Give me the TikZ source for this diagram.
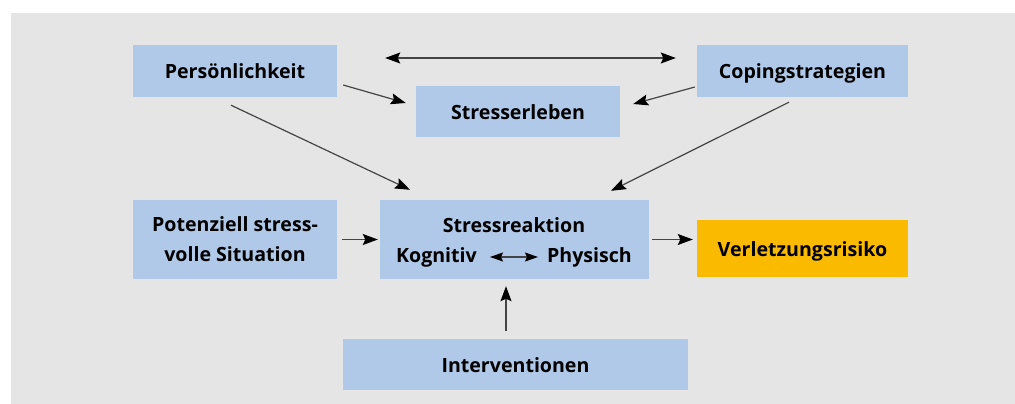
\documentclass[tikz,border=0pt]{standalone}
\usepackage{fontspec}
\setmainfont{Open Sans}
\usetikzlibrary{arrows.meta,calc}
\definecolor{bg}{HTML}{E5E5E5}
\definecolor{boxblue}{HTML}{B0C9E8}
\definecolor{boxorange}{HTML}{F9BA00}
\definecolor{linegray}{HTML}{444444}
\tikzset{
  tip/.tip={Stealth[length=15pt,width=11pt,inset=2.5pt,black]},
  smalltip/.tip={Stealth[length=13pt,width=9pt,inset=2pt,black]},
  boxnode/.style={fill=boxblue, draw=none, inner sep=0pt, font=\bfseries\fontsize{19.6}{30}\selectfont, text height=16pt, text depth=0pt},
  txt/.style={inner sep=0pt, font=\bfseries\fontsize{19.6}{30}\selectfont, anchor=base},
  arr/.style={draw=linegray, line width=1.2pt, -tip},
  darr/.style={draw=linegray, line width=1.2pt, tip-tip},
  sarr/.style={draw=linegray, line width=1.2pt, smalltip-smalltip}
}
\begin{document}
\begin{tikzpicture}[x=1pt,y=-1pt]
\useasboundingbox (0,0) rectangle (1015,404);
\fill[white] (0,0) rectangle (1015,404);
\fill[bg] (11,13) rectangle (1015,404);
% boxes
\node[boxnode, minimum width=204pt, minimum height=52pt] (pers) at (235,71) {Persönlichkeit};
\node[boxnode, minimum width=211pt, minimum height=52pt] (coping) at (802.5,71) {Copingstrategien};
\node[boxnode, minimum width=204pt, minimum height=51pt] (erl) at (518,111.5) {Stresserleben};
\node[fill=boxblue, inner sep=0pt, minimum width=204pt, minimum height=79pt, align=center, font=\bfseries\fontsize{19.6}{30}\selectfont] (pot) at (235,239.5) {Potenziell stress-\\volle Situation};
\node[fill=boxblue, inner sep=0pt, minimum width=269pt, minimum height=79pt] (sr) at (514.5,239.5) {};
\node[boxnode, fill=boxorange, minimum width=211pt, minimum height=57pt] (verl) at (802.5,248.5) {Verletzungsrisiko};
\node[boxnode, minimum width=345pt, minimum height=51pt] (interv) at (515.5,364.5) {Interventionen};
% labels inside Stressreaktion
\node[txt] (srt) at (514,232) {Stressreaktion};
\node[txt] (kog) at (436.5,262) {Kognitiv};
\node[txt] (phy) at (589.5,262) {Physisch};
% connectors
\draw[darr] ($(pers.east)+(48,-13)$) -- ($(coping.west)+(-21,-13)$);
\draw[arr] ($(pers.east)+(6,14)$) -- ($(erl.west)+(-10,-8.5)$);
\draw[arr] ($(coping.west)+(-2,16)$) -- ($(erl.east)+(13,-7.5)$);
\draw[arr] ($(pers.south)+(-4,8)$) -- ($(sr.north)+(-104.5,-10)$);
\draw[arr] ($(coping.south)+(-13.5,5)$) -- ($(sr.north)+(96.5,-9)$);
\draw[arr] ($(pot.east)+(5,0)$) -- ($(sr.west)+(-2,0)$);
\draw[arr] ($(sr.east)+(3,0)$) -- ($(verl.west)+(-4,-9)$);
\draw[arr] ($(interv.north)+(-9.5,-8)$) -- ($(sr.south)+(-8.5,7)$);
\draw[sarr] ($(sr.center)+(-24.5,17.5)$) -- ($(sr.center)+(23.5,17.5)$);
\end{tikzpicture}
\end{document}
